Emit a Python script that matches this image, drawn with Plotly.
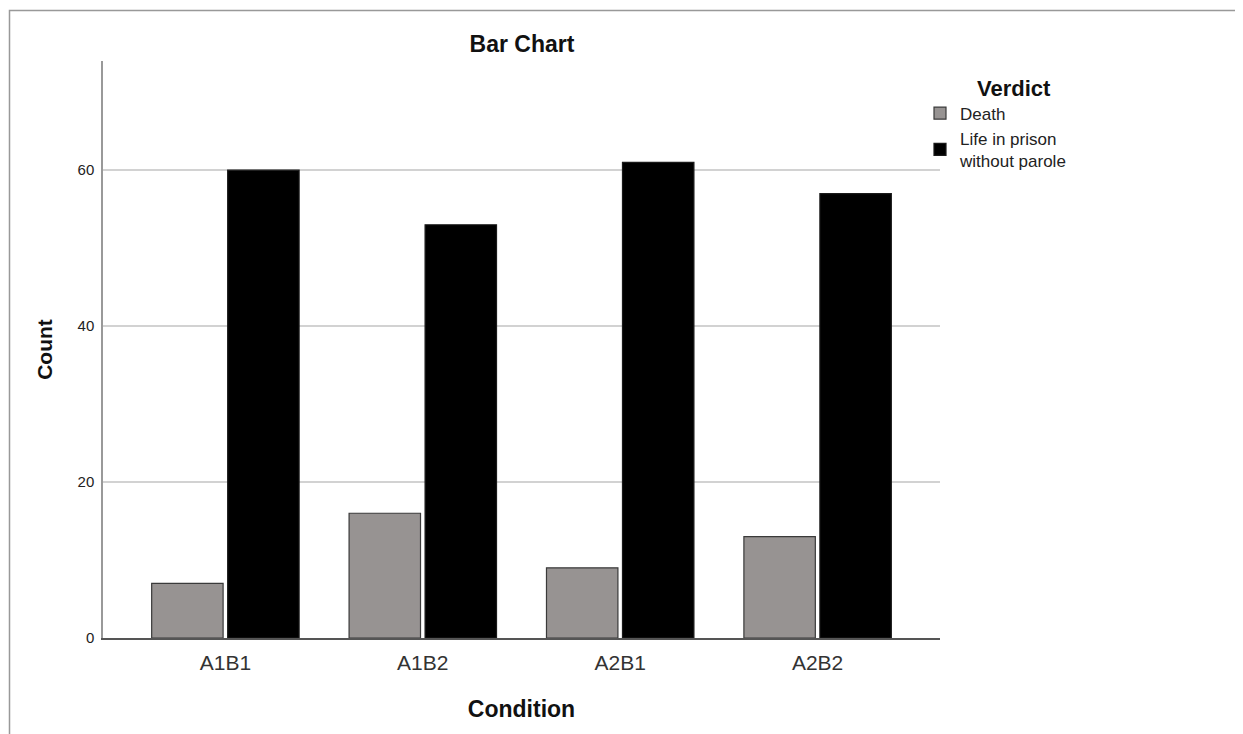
import plotly.graph_objects as go

categories = ["A1B1", "A1B2", "A2B1", "A2B2"]
death = [7, 16, 9, 13]
life = [60, 53, 61, 57]
series_names = ["Death", "Life in prison<br>without parole"]
y_ticks = [0, 20, 40, 60]

# page body has an 8px margin; work in figure coordinates (page - 8)
OFF = 8
W, H = 1243 - OFF, 734 - OFF
L, R, T, B = 103 - OFF, 940 - OFF, 61 - OFF, 638 - OFF

fig = go.Figure()
fig.add_trace(go.Bar(x=categories, y=death, name=series_names[0],
                     marker=dict(color="#979392", line=dict(color="#3a3a3a", width=1.2))))
fig.add_trace(go.Bar(x=categories, y=life, name=series_names[1],
                     marker=dict(color="#000000", line=dict(color="#1a1a1a", width=1.2))))

pw = R - L
ph = B - T
def px_x(p):
    return (p - OFF - L) / pw
def px_y(p):
    return (B - (p - OFF)) / ph

fig.update_layout(
    width=W, height=H,
    margin=dict(l=L, r=W - R, t=T, b=H - B, autoexpand=False),
    paper_bgcolor="white", plot_bgcolor="white",
    font=dict(family="Liberation Sans, Arial, sans-serif", color="#222"),
    barmode="group", bargap=0.23, bargroupgap=0.06,
    title=dict(text="<b>Bar Chart</b>", x=px_x(522), xanchor="center", xref="paper",
               y=1 - (44 - OFF) / H, yanchor="middle", yref="container",
               font=dict(size=23, color="#111")),
    xaxis=dict(range=[-0.62, 3.62], showline=True, linecolor="#555", linewidth=1.5,
               ticks="", showgrid=False, zeroline=False, ticklabelstandoff=5,
               tickfont=dict(size=21, color="#333"),
               title=dict(text="<b>Condition</b>", font=dict(size=23, color="#111"), standoff=28)),
    yaxis=dict(range=[0, 74], tickvals=y_ticks, showline=True, linecolor="#999", linewidth=1.5,
               ticks="", showgrid=True, gridcolor="#d2d2d2", gridwidth=1.8, zeroline=False,
               tickfont=dict(size=15, color="#222"), ticklabelstandoff=4,
               title=dict(text="<b>Count</b>", font=dict(size=21, color="#111"), standoff=19)),
    legend=dict(x=px_x(920), xanchor="left", y=px_y(67), yanchor="top",
                bgcolor="rgba(0,0,0,0)",
                font=dict(size=17, color="#222"), tracegroupgap=8,
                itemwidth=30,
                title=dict(text="&nbsp;" * 9 + "<b>Verdict</b>", side="top",
                           font=dict(size=22, color="#111"))),
    shapes=[dict(type="rect", xref="paper", yref="paper",
                 x0=px_x(9.5), x1=px_x(1300), y0=px_y(800), y1=px_y(10.5),
                 line=dict(color="#999", width=1.5), fillcolor="rgba(0,0,0,0)", layer="below")],
)

fig.write_html("out.html")
